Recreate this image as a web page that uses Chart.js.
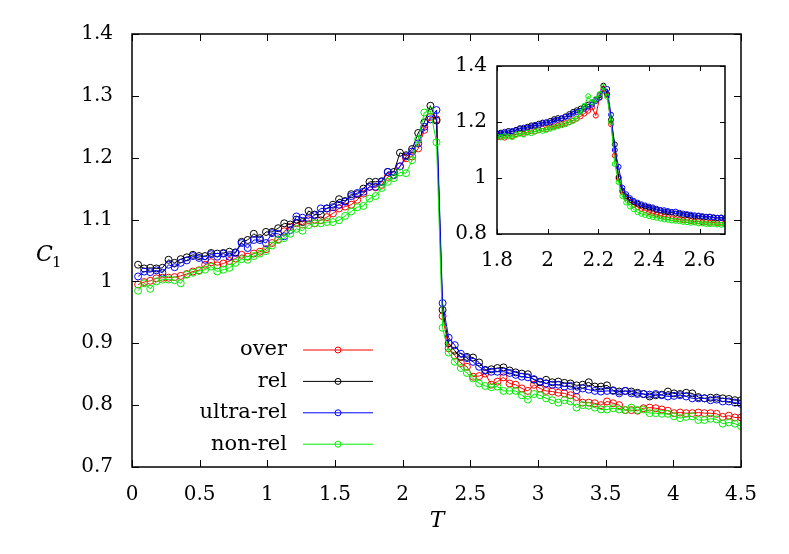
<!DOCTYPE html>
<html>
<head>
<meta charset="utf-8">
<script src="https://cdn.jsdelivr.net/npm/chart.js@4"></script>
<style>
  body { margin: 0; background: #fff; }
  #wrap { position: relative; width: 789px; height: 554px; }
  #main { position: absolute; left: 0; top: 0; }
  #inset { position: absolute; left: 430px; top: 44px; }
</style>
</head>
<body>
<div id="wrap">
  <canvas id="main" width="789" height="554"></canvas>
  <canvas id="inset" width="305" height="240"></canvas>
</div>
<script>
// ----- main panel data -----
const T = [0.045,0.09,0.135,0.18,0.225,0.27,0.315,0.36,0.405,0.45,
  0.495,0.54,0.585,0.63,0.675,0.72,0.765,0.81,0.855,0.9,
  0.945,0.99,1.035,1.08,1.125,1.17,1.215,1.26,1.305,1.35,
  1.395,1.44,1.485,1.53,1.575,1.62,1.665,1.71,1.755,1.8,
  1.845,1.89,1.935,1.98,2.025,2.07,2.115,2.16,2.205,2.25,
  2.295,2.34,2.385,2.43,2.475,2.52,2.565,2.61,2.655,2.7,
  2.745,2.79,2.835,2.88,2.925,2.97,3.015,3.06,3.105,3.15,
  3.195,3.24,3.285,3.33,3.375,3.42,3.465,3.51,3.555,3.6,
  3.645,3.69,3.735,3.78,3.825,3.87,3.915,3.96,4.005,4.05,
  4.095,4.14,4.185,4.23,4.275,4.32,4.365,4.41,4.455,4.5];

const over = [0.995,0.999,1.001,1.005,1.006,1.006,1.007,1.009,1.012,1.016,
  1.018,1.027,1.031,1.026,1.029,1.033,1.037,1.043,1.040,1.045,
  1.048,1.052,1.062,1.068,1.081,1.088,1.094,1.092,1.099,1.094,
  1.099,1.104,1.110,1.118,1.121,1.124,1.132,1.142,1.153,1.152,
  1.156,1.169,1.172,1.186,1.199,1.202,1.215,1.245,1.266,1.262,
  0.944,0.892,0.880,0.868,0.862,0.846,0.847,0.851,0.833,0.838,
  0.845,0.835,0.833,0.827,0.823,0.833,0.827,0.823,0.822,0.820,
  0.819,0.816,0.813,0.804,0.804,0.803,0.800,0.806,0.803,0.800,
  0.792,0.792,0.791,0.795,0.796,0.795,0.793,0.791,0.787,0.788,
  0.787,0.787,0.788,0.787,0.787,0.786,0.781,0.783,0.780,0.780];

const rel = [1.027,1.021,1.022,1.021,1.022,1.035,1.030,1.036,1.039,1.043,
  1.041,1.041,1.046,1.045,1.046,1.048,1.047,1.064,1.067,1.077,
  1.070,1.080,1.080,1.086,1.094,1.092,1.100,1.096,1.114,1.108,
  1.108,1.118,1.124,1.133,1.130,1.141,1.141,1.150,1.161,1.161,
  1.162,1.177,1.177,1.208,1.204,1.214,1.240,1.257,1.284,1.260,
  0.954,0.900,0.888,0.878,0.878,0.877,0.869,0.857,0.858,0.860,
  0.861,0.856,0.853,0.851,0.850,0.841,0.837,0.841,0.837,0.838,
  0.836,0.835,0.832,0.833,0.837,0.830,0.830,0.832,0.824,0.822,
  0.823,0.822,0.820,0.818,0.814,0.816,0.817,0.822,0.819,0.818,
  0.820,0.819,0.813,0.811,0.812,0.812,0.811,0.810,0.808,0.808];

const ultraRel = [1.008,1.016,1.015,1.018,1.014,1.027,1.023,1.030,1.034,1.041,
  1.038,1.035,1.044,1.040,1.045,1.040,1.046,1.062,1.054,1.067,
  1.067,1.062,1.078,1.077,1.073,1.083,1.105,1.103,1.102,1.107,
  1.118,1.118,1.120,1.124,1.129,1.138,1.143,1.145,1.153,1.153,
  1.161,1.177,1.172,1.186,1.202,1.210,1.223,1.250,1.262,1.277,
  0.965,0.909,0.897,0.883,0.876,0.870,0.862,0.856,0.854,0.854,
  0.854,0.852,0.849,0.846,0.845,0.842,0.838,0.835,0.833,0.833,
  0.830,0.831,0.824,0.827,0.825,0.823,0.822,0.823,0.823,0.819,
  0.823,0.819,0.818,0.818,0.817,0.818,0.816,0.814,0.815,0.816,
  0.814,0.811,0.811,0.811,0.808,0.809,0.806,0.806,0.804,0.802];

const nonRel = [0.985,0.997,0.988,1.000,1.003,1.003,1.002,0.997,1.011,1.014,
  1.017,1.019,1.024,1.016,1.019,1.022,1.030,1.036,1.035,1.041,
  1.045,1.049,1.058,1.067,1.070,1.077,1.085,1.082,1.091,1.094,
  1.094,1.096,1.096,1.099,1.106,1.113,1.120,1.122,1.134,1.138,
  1.151,1.161,1.167,1.176,1.175,1.196,1.230,1.273,1.276,1.225,
  0.925,0.885,0.870,0.860,0.852,0.843,0.835,0.831,0.829,0.830,
  0.823,0.823,0.823,0.816,0.809,0.818,0.816,0.811,0.808,0.804,
  0.808,0.806,0.796,0.800,0.799,0.796,0.793,0.793,0.795,0.793,
  0.792,0.796,0.792,0.793,0.787,0.787,0.786,0.786,0.782,0.779,
  0.781,0.782,0.776,0.776,0.778,0.777,0.770,0.772,0.770,0.766];

const mainXTicks = [0,0.5,1,1.5,2,2.5,3,3.5,4,4.5];
const mainYTicks = [0.7,0.8,0.9,1,1.1,1.2,1.3,1.4];

// ----- inset data -----
const Tin = [1.8,1.815,1.83,1.845,1.86,1.875,1.89,1.905,1.92,1.935,
  1.95,1.965,1.98,1.995,2.01,2.025,2.04,2.055,2.07,2.085,
  2.1,2.115,2.13,2.145,2.16,2.175,2.19,2.205,2.22,2.235,
  2.25,2.265,2.28,2.295,2.31,2.325,2.34,2.355,2.37,2.385,
  2.4,2.415,2.43,2.445,2.46,2.475,2.49,2.505,2.52,2.535,
  2.55,2.565,2.58,2.595,2.61,2.625,2.64,2.655,2.67,2.685,2.7];

const overIn = [1.145,1.148,1.144,1.152,1.150,1.156,1.160,1.158,1.164,1.168,
  1.166,1.172,1.176,1.174,1.180,1.184,1.188,1.192,1.196,1.200,
  1.206,1.212,1.220,1.230,1.240,1.252,1.223,1.286,1.318,1.296,
  1.192,1.080,0.998,0.950,0.928,0.914,0.904,0.896,0.890,0.884,
  0.878,0.874,0.870,0.866,0.862,0.860,0.856,0.853,0.852,0.849,
  0.850,0.846,0.844,0.845,0.842,0.843,0.840,0.841,0.839,0.840,0.838];

const relIn = [1.158,1.162,1.160,1.168,1.165,1.172,1.178,1.176,1.183,1.188,
  1.186,1.194,1.198,1.196,1.204,1.210,1.214,1.212,1.220,1.228,
  1.236,1.242,1.248,1.254,1.262,1.270,1.280,1.296,1.330,1.300,
  1.208,1.120,1.003,0.955,0.934,0.922,0.914,0.908,0.902,0.898,
  0.894,0.891,0.886,0.884,0.880,0.878,0.877,0.873,0.872,0.868,
  0.868,0.865,0.863,0.864,0.861,0.860,0.862,0.858,0.857,0.859,0.856];

const ultraRelIn = [1.160,1.158,1.165,1.163,1.168,1.170,1.175,1.180,1.179,1.184,
  1.190,1.188,1.195,1.200,1.198,1.205,1.208,1.214,1.218,1.222,
  1.230,1.236,1.240,1.248,1.255,1.262,1.275,1.288,1.312,1.318,
  1.226,1.100,1.040,0.965,0.942,0.928,0.918,0.912,0.906,0.902,
  0.898,0.895,0.890,0.886,0.885,0.882,0.879,0.880,0.876,0.873,
  0.871,0.869,0.867,0.866,0.864,0.862,0.861,0.860,0.858,0.857,0.856];

const nonRelIn = [1.148,1.145,1.150,1.148,1.146,1.154,1.158,1.155,1.162,1.160,
  1.166,1.170,1.168,1.172,1.176,1.180,1.184,1.188,1.192,1.198,
  1.204,1.212,1.236,1.258,1.292,1.270,1.282,1.300,1.325,1.290,
  1.200,1.050,0.985,0.935,0.912,0.898,0.888,0.878,0.872,0.868,
  0.864,0.860,0.858,0.855,0.852,0.851,0.848,0.847,0.846,0.843,
  0.842,0.840,0.841,0.838,0.838,0.836,0.835,0.836,0.834,0.833,0.834];

const insetXTicks = [1.8,2,2.2,2.4,2.6];
const insetYTicks = [0.8,1,1.2,1.4];

const seriesNames = ["over", "rel", "ultra-rel", "non-rel"];
const seriesColors = ["#ff0000", "#000000", "#0000ff", "#00ee00"];

const serif = '"DejaVu Serif", "Liberation Serif", serif';

function makeSets(xs, ys, radius) {
  return ys.map((arr, i) => ({
    label: seriesNames[i],
    data: xs.map((t, j) => ({x: t, y: arr[j]})),
    borderColor: seriesColors[i],
    backgroundColor: "rgba(0,0,0,0)",
    borderWidth: 1,
    pointRadius: radius,
    pointBorderWidth: 1,
    pointBackgroundColor: "rgba(0,0,0,0)",
    tension: 0,
    order: 4 - i
  }));
}

// box round the plot with inward ticks on all four sides
function frame(tickLen) {
  return {
    id: "frame",
    afterDraw(chart) {
      const ctx = chart.ctx, a = chart.chartArea, sx = chart.scales.x, sy = chart.scales.y;
      ctx.save();
      ctx.strokeStyle = "#000";
      ctx.lineWidth = 1;
      ctx.beginPath();
      sx.ticks.forEach(t => {
        const p = Math.round(sx.getPixelForValue(t.value)) + 0.5;
        ctx.moveTo(p, a.bottom); ctx.lineTo(p, a.bottom - tickLen);
        ctx.moveTo(p, a.top); ctx.lineTo(p, a.top + tickLen);
      });
      sy.ticks.forEach(t => {
        const p = Math.round(sy.getPixelForValue(t.value)) + 0.5;
        ctx.moveTo(a.left, p); ctx.lineTo(a.left + tickLen, p);
        ctx.moveTo(a.right, p); ctx.lineTo(a.right - tickLen, p);
      });
      ctx.stroke();
      ctx.lineWidth = 1.5;
      ctx.strokeRect(a.left, a.top, a.right - a.left, a.bottom - a.top);
      ctx.restore();
    }
  };
}

const mainExtras = {
  id: "mainExtras",
  afterDraw(chart) {
    const ctx = chart.ctx;
    ctx.save();
    ctx.fillStyle = "#000";
    // axis titles
    ctx.textBaseline = "alphabetic";
    ctx.textAlign = "left";
    ctx.font = "italic 22px " + serif;
    ctx.fillText("C", 36, 261);
    ctx.font = "15px " + serif;
    ctx.fillText("1", 52, 267);
    ctx.textAlign = "center";
    ctx.font = "italic 22px " + serif;
    ctx.fillText("T", 437, 527);
    // key
    ctx.textAlign = "right";
    ctx.textBaseline = "middle";
    ctx.font = "21px " + serif;
    chart.data.datasets.forEach((ds, i) => {
      const y = 350 + i * 31.4;
      ctx.fillStyle = "#000";
      ctx.fillText(ds.label, 287, y);
      ctx.strokeStyle = ds.borderColor;
      ctx.lineWidth = 1;
      ctx.beginPath(); ctx.moveTo(303, y); ctx.lineTo(373, y); ctx.stroke();
      ctx.beginPath(); ctx.arc(338, y, 3, 0, 2 * Math.PI); ctx.stroke();
    });
    ctx.restore();
  }
};

function axisOpts(min, max, tickList, pad, fit) {
  return {
    type: "linear",
    min: min, max: max,
    afterBuildTicks: s => { s.ticks = tickList.map(v => ({value: v})); },
    afterFit: fit,
    grid: {display: false, drawTicks: false},
    border: {display: false},
    ticks: {
      padding: pad,
      color: "#000",
      font: {family: serif, size: 20},
      callback: v => String(v)
    }
  };
}

new Chart("main", {
  type: "line",
  data: {datasets: makeSets(T, [over, rel, ultraRel, nonRel], 3.5)},
  options: {
    responsive: false,
    animation: false,
    events: [],
    layout: {padding: {top: 34, right: 48, left: 0, bottom: 0}},
    plugins: {legend: {display: false}, tooltip: {enabled: false}},
    scales: {
      x: axisOpts(0, 4.5, mainXTicks, 16, s => { s.height = 87; }),
      y: axisOpts(0.7, 1.4, mainYTicks, 19, s => { s.width = 132; })
    }
  },
  plugins: [frame(7), mainExtras]
});

new Chart("inset", {
  type: "line",
  data: {datasets: makeSets(Tin, [overIn, relIn, ultraRelIn, nonRelIn], 2.5)},
  options: {
    responsive: false,
    animation: false,
    events: [],
    layout: {padding: {top: 10, right: 10, left: 0, bottom: 0}},
    plugins: {legend: {display: false}, tooltip: {enabled: false}},
    scales: {
      x: axisOpts(1.8, 2.7, insetXTicks, 15, s => { s.height = 50; }),
      y: axisOpts(0.8, 1.4, insetYTicks, 10, s => { s.width = 67; })
    }
  },
  plugins: [frame(5)]
});
</script>
</body>
</html>
